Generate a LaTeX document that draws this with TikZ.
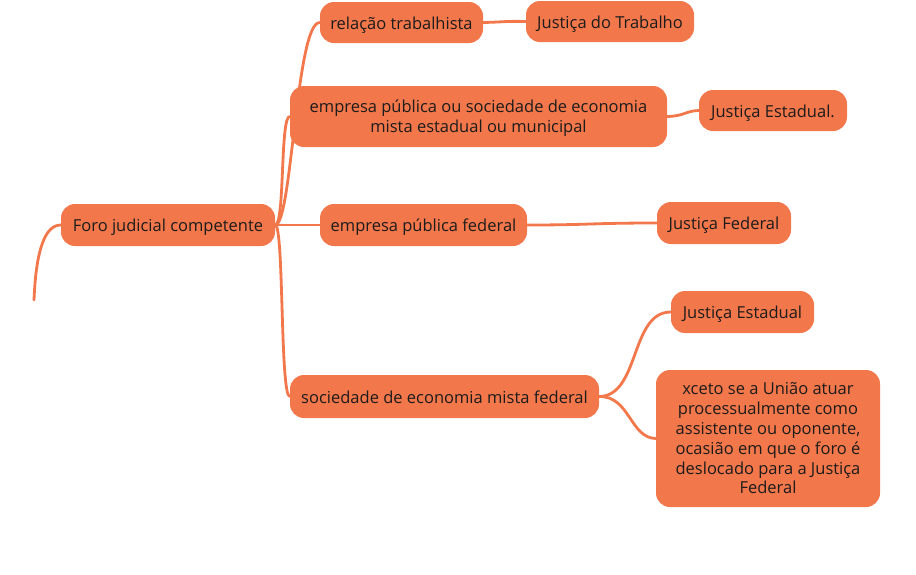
\documentclass[tikz,border=0pt]{standalone}
\usepackage{fontspec}
\setmainfont{Open Sans}
\usetikzlibrary{positioning}
\definecolor{mapfill}{HTML}{F2774B}
\definecolor{maptext}{HTML}{1C1C1C}
\tikzset{
  topic/.style={fill=mapfill,rounded corners=14pt,text=maptext,align=center,
    inner sep=0pt,minimum height=42pt,font=\fontsize{16.5}{19.8}\selectfont},
  oneline/.style={text height=13pt,text depth=0pt},
  branch/.style={draw=mapfill,line width=2.8pt,line cap=round}
}

\begin{document}
\begin{tikzpicture}[x=1pt,y=-1pt]
\useasboundingbox (0,0) rectangle (916,574);

\node[topic,oneline,minimum width=214pt] (foro) at (168,225) {Foro judicial competente};
\node[topic,oneline,minimum width=163pt,minimum height=41pt] (rel) at (401.5,22.5) {rela\c{c}\~ao trabalhista};
\node[topic,oneline,minimum width=168pt,minimum height=41pt] (jtrab) at (610,21.5) {Justi\c{c}a do Trabalho};
\node[topic,text depth=0pt,minimum width=377pt,minimum height=61pt] (epmun) at (478.5,116.5) {empresa p\'ublica ou sociedade de economia\\mista estadual ou municipal};
\node[topic,oneline,minimum width=148pt,minimum height=41pt] (jest) at (773,110.5) {Justi\c{c}a Estadual.};
\node[topic,oneline,minimum width=207pt] (epfed) at (423.5,225) {empresa p\'ublica federal};
\node[topic,oneline,minimum width=134pt] (jfed) at (724,223) {Justi\c{c}a Federal};
\node[topic,oneline,minimum width=309pt,minimum height=43pt] (semfed) at (444.5,396.5) {sociedade de economia mista federal};
\node[topic,oneline,minimum width=143pt] (jest2) at (742.5,312) {Justi\c{c}a Estadual};
\node[topic,minimum width=224pt,minimum height=137pt] (exc) at (768,438.5) {xceto se a Uni\~ao atuar\\processualmente como\\assistente ou oponente,\\ocasi\~ao em que o foro \'e\\deslocado para a Justi\c{c}a\\Federal};

\coordinate (loose) at (34,300);

% ramos
\draw[branch] (foro.west) .. controls (45,225) and (36,250) .. (loose);
\draw[branch] (foro.east) .. controls (292,225) and (296,22) .. (rel.west);
\draw[branch] (foro.east) .. controls (285,225) and (280,116) .. (epmun.west);
\draw[branch] (foro.east) -- (epfed.west);
\draw[branch] (foro.east) .. controls (284,225) and (280,396) .. (semfed.west);

\draw[branch] (rel.east) .. controls (505,22) and (505,21) .. (jtrab.west);
\draw[branch] (epmun.east) .. controls (685,116) and (685,111) .. (jest.west);
\draw[branch] (epfed.east) .. controls (590,225) and (590,223) .. (jfed.west);
\draw[branch] (semfed.east) .. controls (640,396) and (630,312) .. (jest2.west);
\draw[branch] (semfed.east) .. controls (630,396) and (630,438) .. (exc.west);
\end{tikzpicture}
\end{document}
